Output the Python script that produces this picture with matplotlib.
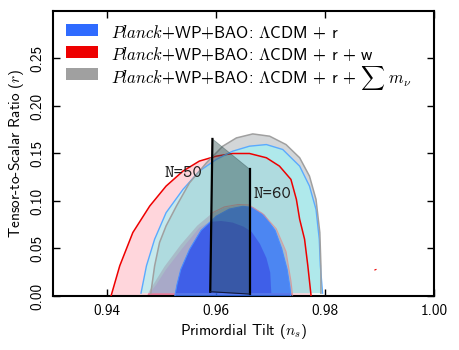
import matplotlib
matplotlib.use('Agg')
import matplotlib.pyplot as plt
from matplotlib.patches import Rectangle, Polygon
import numpy as np

plt.rcParams['font.family'] = ['cmss10', 'DejaVu Sans']
plt.rcParams['mathtext.fontset'] = 'cm'
plt.rcParams['axes.unicode_minus'] = False

# ---------------- data ----------------
# Planck+WP+BAO: LCDM + r + w  (95% / 68%)
red95_ns = [0.9407, 0.9423, 0.9447, 0.9478, 0.9508, 0.9539, 0.9569, 0.9600, 0.9630,
            0.9661, 0.9692, 0.9716, 0.9737, 0.9747, 0.9753, 0.9762, 0.9768, 0.9774]
red95_r = [0.000, 0.0318, 0.0668, 0.0947, 0.1157, 0.1315, 0.1420, 0.1472, 0.1500,
           0.1500, 0.1455, 0.1367, 0.1227, 0.1017, 0.0808, 0.0598, 0.0318, 0.000]
red68_ns = [0.9473, 0.9478, 0.9505, 0.9535, 0.9565, 0.9590, 0.9615, 0.9640, 0.9660,
            0.9685, 0.9710, 0.9728, 0.9737, 0.9740]
red68_r = [0.000, 0.006, 0.031, 0.054, 0.074, 0.086, 0.093, 0.0955, 0.0950,
           0.0860, 0.0700, 0.0460, 0.0150, 0.000]
red_island_ns = [0.9891, 0.9893]
red_island_r = [0.0274, 0.0279]

# Planck+WP+BAO: LCDM + r + sum m_nu  (95% / 68%)
gray95_ns = [0.9480, 0.9487, 0.9496, 0.9508, 0.9527, 0.9551, 0.9582, 0.9612, 0.9637,
             0.9667, 0.9698, 0.9728, 0.9753, 0.9771, 0.9783, 0.9790, 0.9792, 0.9792]
gray95_r = [0.003, 0.0318, 0.0563, 0.0738, 0.0947, 0.1192, 0.1402, 0.1577, 0.1664,
            0.1706, 0.1682, 0.1594, 0.1455, 0.1262, 0.1017, 0.0668, 0.0318, 0.003]
gray68_ns = [0.9478, 0.9490, 0.9508, 0.9539, 0.9569, 0.9588, 0.9609, 0.9630, 0.9650,
             0.9665, 0.9680, 0.9692, 0.9699, 0.9701]
gray68_r = [0.003, 0.012, 0.028, 0.051, 0.072, 0.078, 0.079, 0.0773, 0.0730,
            0.0675, 0.0550, 0.0400, 0.0248, 0.003]

# Planck+WP+BAO: LCDM + r  (95% / 68%)
blue95_ns = [0.9462, 0.9472, 0.9487, 0.9508, 0.9539, 0.9569, 0.9600, 0.9630, 0.9661,
             0.9692, 0.9722, 0.9753, 0.9771, 0.9783, 0.9789, 0.9791, 0.9795]
blue95_r = [0.003, 0.0318, 0.0598, 0.0877, 0.1122, 0.1315, 0.1437, 0.1524, 0.1577,
            0.1594, 0.1542, 0.1367, 0.1157, 0.0912, 0.0598, 0.0318, 0.003]
blue68_ns = [0.9524, 0.9528, 0.9535, 0.9551, 0.9572, 0.9600, 0.9624, 0.9649, 0.9667,
             0.9688, 0.9708, 0.9720, 0.9730, 0.9735, 0.9737]
blue68_r = [0.000, 0.012, 0.028, 0.049, 0.069, 0.084, 0.0915, 0.0944, 0.0930,
            0.0850, 0.0690, 0.0500, 0.0280, 0.0100, 0.000]

# inflation model prediction band (N = 50 .. 60)
band_ns = [0.9589, 0.9593, 0.9662, 0.9662]
band_r = [0.0045, 0.1653, 0.1332, 0.0020]
band_labels = ['N=50', 'N=60']
band_label_ns = [0.9506, 0.9668]
band_label_r = [0.129, 0.107]

legend_labels = [r'$\mathit{Planck}$+WP+BAO: $\Lambda$CDM + r',
                 r'$\mathit{Planck}$+WP+BAO: $\Lambda$CDM + r + w',
                 r'$\mathit{Planck}$+WP+BAO: $\Lambda$CDM + r + $\sum\; m_\nu$']
legend_colors = ['#2f6bff', '#ee0000', '#a0a0a0']

xticks = [0.94, 0.96, 0.98, 1.00]
yticks = [0.00, 0.05, 0.10, 0.15, 0.20, 0.25]

# ---------------- figure ----------------
fig = plt.figure(figsize=(4.59, 3.5), dpi=100)
ax = fig.add_axes([0.1148, 0.1543, 0.8314, 0.8143])

# outer (95%) regions
ax.fill(red95_ns, red95_r, facecolor=(1.0, 0.2, 0.33), alpha=0.2, edgecolor='none', zorder=1)
ax.fill(red68_ns, red68_r, facecolor='#e04070', alpha=0.6, edgecolor='none', zorder=1.5)
ax.fill(gray95_ns, gray95_r, facecolor='#6e7a80', alpha=0.3, edgecolor='none', zorder=2)
ax.fill(blue95_ns, blue95_r, facecolor='#8dfdff', alpha=0.5, edgecolor='none', zorder=3)

# inner (68%) regions
ax.fill(gray68_ns, gray68_r, facecolor='#a8a8c8', alpha=0.95, edgecolor='none', zorder=4)
ax.fill(blue68_ns, blue68_r, facecolor='#3377ff', alpha=0.78, edgecolor='none', zorder=5)
overlap = ax.fill(gray68_ns, gray68_r, facecolor='#3f5ee8', alpha=0.95,
                  edgecolor='none', zorder=6)[0]
clip = Polygon(np.column_stack([blue68_ns, blue68_r]), closed=True,
               transform=ax.transData)
overlap.set_clip_path(clip)

# contour lines
ax.plot(red95_ns, red95_r, color='#ee0000', lw=1.1, zorder=7)
ax.plot(blue95_ns, blue95_r, color='#5aaaff', lw=1.0, zorder=7)
ax.plot(gray95_ns, gray95_r, color='#a0a0a0', lw=1.1, zorder=7)
ax.plot(blue68_ns, blue68_r, color='#4a8cff', lw=0.8, zorder=7)
r68n = np.array(red68_ns)
r68r = np.array(red68_r)
m = r68n >= 0.957
ax.plot(r68n[m], r68r[m] + 0.0008, color='#e09090', lw=0.8, alpha=0.8, zorder=7)
ax.plot(red_island_ns, red_island_r, color='#ee0000', lw=0.8, zorder=7)

# N=50..60 band
ax.fill(band_ns, band_r, facecolor='#2f4f4f', alpha=0.42, edgecolor='#2f4f4f',
        lw=0.6, zorder=8)
ax.plot([band_ns[0], band_ns[1]], [band_r[0], band_r[1]], color='black', lw=1.6, zorder=9)
ax.plot([band_ns[3], band_ns[2]], [band_r[3], band_r[2]], color='black', lw=1.6, zorder=9)
ax.plot([band_ns[0], band_ns[3]], [band_r[0], band_r[3]], color='#101840', lw=0.8, zorder=9)
for lab, x, y in zip(band_labels, band_label_ns, band_label_r):
    ax.text(x, y, lab, family='cmtt10', fontsize=13, color='#222222',
            ha='left', va='center', zorder=10)

# axes styling
ax.set_xlim(0.93, 1.00)
ax.set_ylim(0.0, 0.30)
ax.set_xticks(xticks)
ax.set_xticklabels(['%.2f' % v for v in xticks])
ax.set_yticks(yticks)
ax.set_yticklabels(['%.2f' % v for v in yticks], rotation=90, va='center')
ax.tick_params(direction='in', length=5, width=1, top=True, right=True,
               labelsize=11, pad=6)
for s in ax.spines.values():
    s.set_linewidth(1.5)
ax.set_xlabel(r'Primordial Tilt ($n_s$)', fontsize=11, labelpad=3)
ax.set_ylabel(r'Tensor-to-Scalar Ratio ($r$)', fontsize=11, labelpad=3)

# legend (equally spaced rows, no frame)
row_y = [0.933, 0.856, 0.779]
for i, (lab, col) in enumerate(zip(legend_labels, legend_colors)):
    y = row_y[i]
    ax.add_patch(Rectangle((0.035, y - 0.021), 0.084, 0.042, transform=ax.transAxes,
                           facecolor=col, edgecolor='none', zorder=11))
    ax.text(0.153, y, lab, transform=ax.transAxes, fontsize=12, ha='left',
            va='center_baseline', zorder=11)

fig.savefig('out.png', dpi=100)
